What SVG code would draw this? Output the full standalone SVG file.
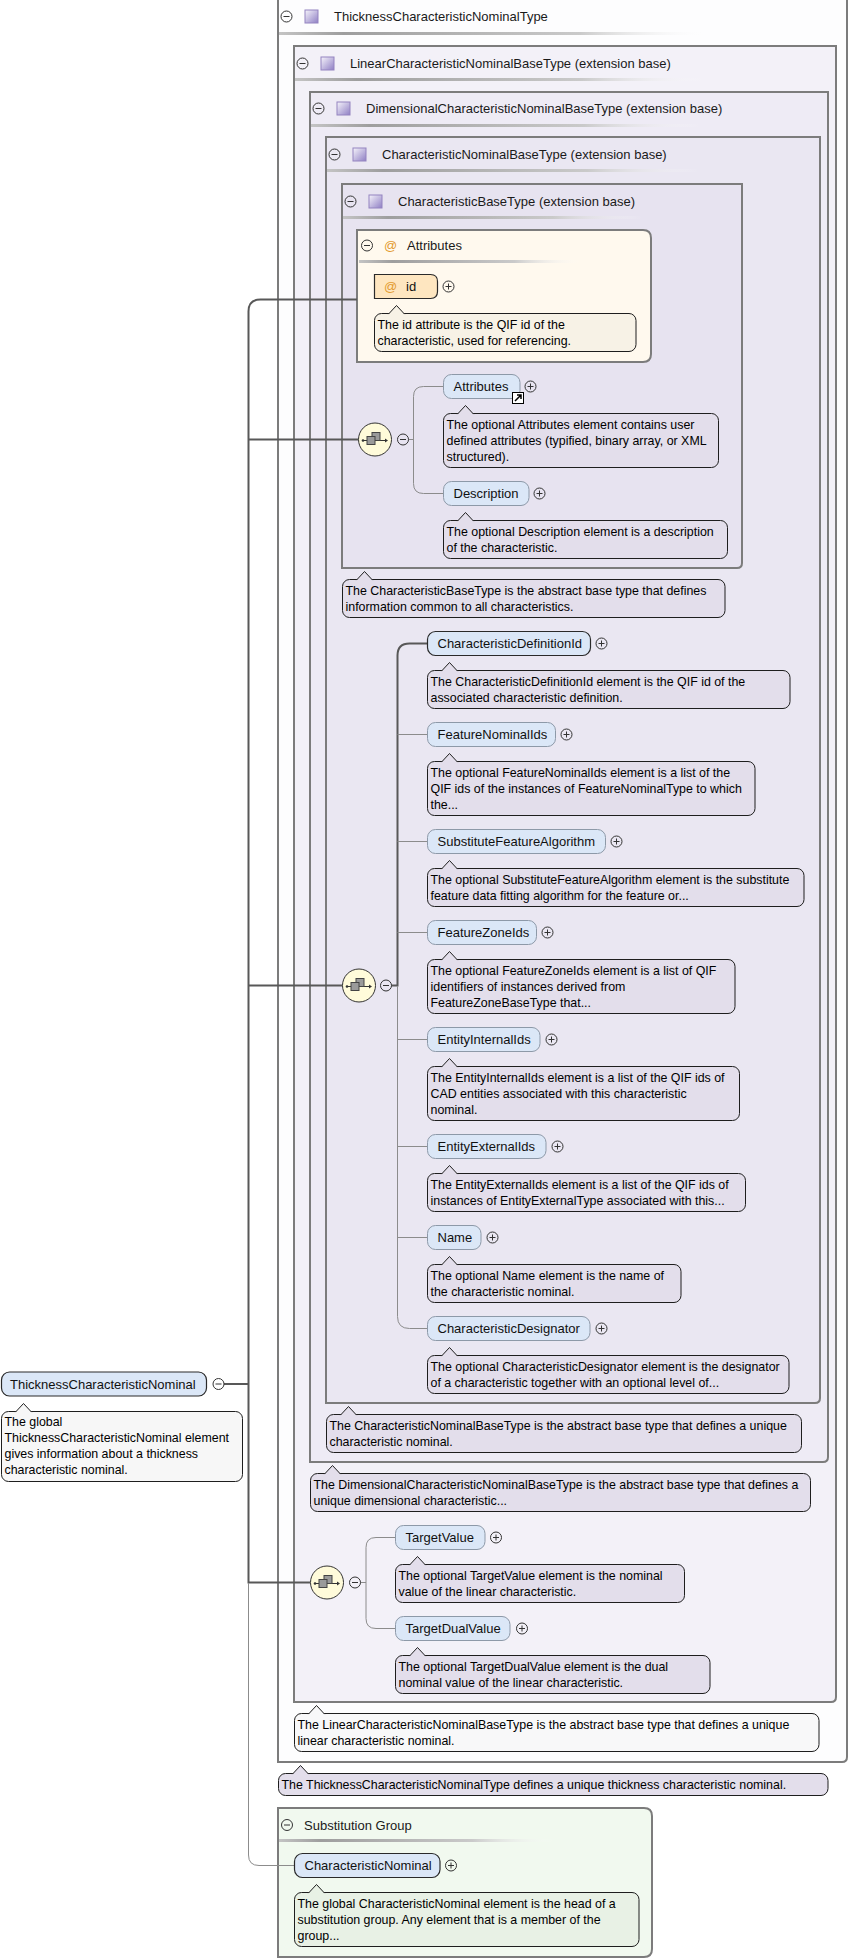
<svg xmlns="http://www.w3.org/2000/svg" xmlns:xlink="http://www.w3.org/1999/xlink" width="848" height="1959" viewBox="0 0 848 1959">
<style>
text{font-family:"Liberation Sans",Arial,sans-serif}
.ttl{font-size:13px;fill:#1a1a1a}
.nm{font-size:13px;fill:#111}
.dt{font-size:12.4px;fill:#000}
.tbox{stroke:#7c7c7c;stroke-width:2}
.el{fill:#DBE7F7}
.req{stroke:#2a2a2a;stroke-width:1.2}
.opt{stroke:#8d99a8;stroke-width:1}
.doc{fill:#E3DEEB;stroke:#1e1e1e;stroke-width:1}
.thick{fill:none;stroke:#585858;stroke-width:2}
.thin{fill:none;stroke:#8c8c8c;stroke-width:1}
.at{font-size:13px;fill:#E39B2E}
</style>
<defs>
<linearGradient id="sep" x1="0" y1="0" x2="1" y2="0">
<stop offset="0" stop-color="#c4c4c4"/>
<stop offset="0.15" stop-color="#9e9e9e"/>
<stop offset="0.7" stop-color="#cacaca"/>
<stop offset="1" stop-color="#ffffff" stop-opacity="0"/>
</linearGradient>
<linearGradient id="ig" x1="0" y1="0" x2="1" y2="1">
<stop offset="0" stop-color="#F6F4FB"/>
<stop offset="1" stop-color="#8F7FC4"/>
</linearGradient>
<g id="plus"><circle r="5.5" fill="none" stroke="#333"/><path d="M-3,0H3M0,-3V3" stroke="#333" stroke-width="1"/></g>
<g id="minus"><circle r="5.5" fill="none" stroke="#333"/><path d="M-3,0H3" stroke="#333" stroke-width="1"/></g>
<g id="ticon"><rect x="0" y="0" width="13" height="13" fill="url(#ig)" stroke="#9484c0" stroke-width="1"/></g>
<g id="seq">
<circle r="16.5" fill="#FFFBDA" stroke="#333" stroke-width="1"/>
<path d="M-12,1H12" stroke="#333" stroke-width="1"/>
<circle cx="-12" cy="1" r="1.3" fill="#333"/>
<path d="M10,-1L13,1L10,3Z" fill="#333"/>
<rect x="-3" y="-7" width="8" height="8" fill="#9a9a9a" stroke="#444" stroke-width="1"/>
<rect x="-8" y="-3" width="8" height="8" fill="#9a9a9a" stroke="#444" stroke-width="1"/>
</g>
</defs>

<rect x="0" y="0" width="848" height="1959" fill="#ffffff"/>

<!-- type boxes -->
<g id="ThicknessCharacteristicNominalType">
<path class="tbox" d="M278,-3 H847 V1757 Q847,1762 842,1762 H278 Z" fill="#FDFDFE"/>
<use xlink:href="#minus" x="286.5" y="16.5"/>
<use xlink:href="#ticon" x="305" y="10"/>
<text class="ttl" x="334" y="21">ThicknessCharacteristicNominalType</text>
<rect x="279" y="32" width="430" height="3" fill="url(#sep)"/>
</g>
<g id="LinearCharacteristicNominalBaseType">
<path class="tbox" d="M294,46 H836 V1697 Q836,1702 831,1702 H294 Z" fill="#F3F1F8"/>
<use xlink:href="#minus" x="302.5" y="63.5"/>
<use xlink:href="#ticon" x="321" y="57"/>
<text class="ttl" x="350" y="68">LinearCharacteristicNominalBaseType (extension base)</text>
<rect x="295" y="78" width="410" height="3" fill="url(#sep)"/>
</g>
<g id="DimensionalCharacteristicNominalBaseType">
<path class="tbox" d="M310,92 H828 V1457 Q828,1462 823,1462 H310 Z" fill="#EEEBF5"/>
<use xlink:href="#minus" x="318.5" y="108.5"/>
<use xlink:href="#ticon" x="337" y="102"/>
<text class="ttl" x="366" y="113">DimensionalCharacteristicNominalBaseType (extension base)</text>
<rect x="311" y="124" width="390" height="3" fill="url(#sep)"/>
</g>
<g id="CharacteristicNominalBaseType">
<path class="tbox" d="M326,137 H820 V1398 Q820,1403 815,1403 H326 Z" fill="#EAE7F2"/>
<use xlink:href="#minus" x="334.5" y="154.5"/>
<use xlink:href="#ticon" x="353" y="148"/>
<text class="ttl" x="382" y="159">CharacteristicNominalBaseType (extension base)</text>
<rect x="327" y="169" width="372" height="3" fill="url(#sep)"/>
</g>
<g id="CharacteristicBaseType">
<path class="tbox" d="M342,184 H742 V563 Q742,568 737,568 H342 Z" fill="#E7E3F0"/>
<use xlink:href="#minus" x="350.5" y="201.5"/>
<use xlink:href="#ticon" x="369" y="195"/>
<text class="ttl" x="398" y="206">CharacteristicBaseType (extension base)</text>
<rect x="343" y="216" width="300" height="3" fill="url(#sep)"/>
</g>
<g id="AttributesGroup">
<path class="tbox" d="M357,230 H643 Q651,230 651,238 V354 Q651,362 643,362 H357 Z" fill="#FFF9EE"/>
<use xlink:href="#minus" x="367" y="245.5"/>
<text class="at" x="384" y="250">@</text>
<text class="ttl" x="407" y="250">Attributes</text>
<rect x="359" y="260" width="222" height="3" fill="url(#sep)"/>
</g>
<g id="SubstitutionGroup">
<path class="tbox" d="M278,1808 H644 Q652,1808 652,1816 V1949 Q652,1957 644,1957 H278 Z" fill="#F1F9EF"/>
<use xlink:href="#minus" x="287" y="1825"/>
<text class="ttl" x="304" y="1829.5">Substitution Group</text>
<rect x="279" y="1839" width="276" height="3" fill="url(#sep)"/>
</g>

<!-- connectors -->
<g id="connectors">
<path class="thick" d="M224,1384 H248.5"/>
<path class="thick" d="M357,299.5 H260.5 Q248.5,299.5 248.5,311.5 V1582.5 H310"/>
<path class="thick" d="M248.5,439.5 H358.5"/>
<path class="thick" d="M248.5,985.5 H342.5"/>
<path class="thin" d="M248.5,1583 V1855 Q248.5,1865.5 259,1865.5 H294.5"/>
<path class="thin" d="M408.5,439.5 H413.5"/>
<path class="thin" d="M443.5,386.5 H423.5 Q413.5,386.5 413.5,396.5 V483.5 Q413.5,493.5 423.5,493.5 H443.5"/>
<path class="thick" d="M391.5,985.5 H397.5 V655.5 Q397.5,643.5 409.5,643.5 H427.5"/>
<path class="thin" d="M397.5,986 V1316.5 Q397.5,1328.5 409.5,1328.5 H427.5"/>
<path class="thin" d="M397.5,734.5 H427.5 M397.5,841.5 H427.5 M397.5,932.5 H427.5 M397.5,1039.5 H427.5 M397.5,1146.5 H427.5 M397.5,1237.5 H427.5"/>
<path class="thin" d="M360.5,1582.5 H366"/>
<path class="thin" d="M395.5,1537.5 H376 Q366,1537.5 366,1547.5 V1618.5 Q366,1628.5 376,1628.5 H395.5"/>
</g>

<!-- sequences -->
<g id="seq1"><use xlink:href="#seq" x="375" y="439.5"/><use xlink:href="#minus" x="403" y="439.5"/></g>
<g id="seq2"><use xlink:href="#seq" x="359" y="985.5"/><use xlink:href="#minus" x="386" y="985.5"/></g>
<g id="seq3"><use xlink:href="#seq" x="327" y="1582.5"/><use xlink:href="#minus" x="355" y="1582.5"/></g>

<!-- root element -->
<g id="ThicknessCharacteristicNominal">
<rect class="el req" x="1.5" y="1372" width="205" height="24" rx="8"/>
<text class="nm" x="10" y="1388.5">ThicknessCharacteristicNominal</text>
<use xlink:href="#minus" x="218.5" y="1384"/>
<rect x="1.5" y="1411.5" width="241" height="70" rx="7" fill="#F7F7F7" stroke="#1e1e1e"/>
<path d="M15.5,1412.1 L23.5,1403.5 L31.5,1412.1" fill="#F7F7F7" stroke="#1e1e1e"/>
<text class="dt" x="4.5" y="1425.5">The global</text>
<text class="dt" x="4.5" y="1441.5">ThicknessCharacteristicNominal element</text>
<text class="dt" x="4.5" y="1457.5">gives information about a thickness</text>
<text class="dt" x="4.5" y="1473.5">characteristic nominal.</text>
</g>

<!-- id attribute -->
<g id="attr-id">
<path d="M374.5,274.5 H430.5 Q437.5,274.5 437.5,281.5 V291.5 Q437.5,298.5 430.5,298.5 H374.5 Z" fill="#FEE6C0" stroke="#2a2a2a" stroke-width="1.2"/>
<text class="at" x="384" y="291">@</text>
<text class="nm" x="406" y="291">id</text>
<use xlink:href="#plus" x="448.5" y="286.5"/>
<rect x="374.5" y="313.5" width="261.5" height="38" rx="7" fill="#F7F2E6" stroke="#1e1e1e"/>
<path d="M388.5,314.1 L396.5,305.5 L404.5,314.1" fill="#F7F2E6" stroke="#1e1e1e"/>
<text class="dt" x="377.5" y="328.5">The id attribute is the QIF id of the</text>
<text class="dt" x="377.5" y="344.5">characteristic, used for referencing.</text>
</g>

<g id="el-Attributes">
<rect class="el opt" x="443.5" y="374.5" width="76.5" height="24" rx="8"/>
<text class="nm" x="453.5" y="391">Attributes</text>
<use xlink:href="#plus" x="530.5" y="386.5"/>
<rect x="512.5" y="392.5" width="11" height="11" fill="#fff" stroke="#000"/>
<path d="M515,401 L521,395 M517,395 H521 V399" stroke="#000" stroke-width="1.5" fill="none"/>
<rect class="doc" x="443.5" y="413.5" width="275" height="54" rx="7"/>
<path class="doc" d="M457.5,414.1 L465.5,405.5 L473.5,414.1"/>
<text class="dt" x="446.5" y="428.5">The optional Attributes element contains user</text>
<text class="dt" x="446.5" y="444.5">defined attributes (typified, binary array, or XML</text>
<text class="dt" x="446.5" y="460.5">structured).</text>
</g>

<g id="el-Description">
<rect class="el opt" x="443.5" y="481.5" width="85.5" height="24" rx="8"/>
<text class="nm" x="453.5" y="498">Description</text>
<use xlink:href="#plus" x="539.5" y="493.5"/>
<rect class="doc" x="443.5" y="520.5" width="284" height="38" rx="7"/>
<path class="doc" d="M457.5,521.1 L465.5,512.5 L473.5,521.1"/>
<text class="dt" x="446.5" y="535.5">The optional Description element is a description</text>
<text class="dt" x="446.5" y="551.5">of the characteristic.</text>
</g>

<g id="doc-CharacteristicBaseType">
<rect class="doc" x="342.5" y="579.5" width="382.5" height="38" rx="7"/>
<path class="doc" d="M356.5,580.1 L364.5,571.5 L372.5,580.1"/>
<text class="dt" x="345.5" y="594.5">The CharacteristicBaseType is the abstract base type that defines</text>
<text class="dt" x="345.5" y="610.5">information common to all characteristics.</text>
</g>

<g id="el-CharacteristicDefinitionId">
<rect class="el req" x="427.5" y="631.5" width="163" height="24" rx="8"/>
<text class="nm" x="437.5" y="648">CharacteristicDefinitionId</text>
<use xlink:href="#plus" x="601.5" y="643.5"/>
<rect class="doc" x="427.5" y="670.5" width="362.5" height="38" rx="7"/>
<path class="doc" d="M441.5,671.1 L449.5,662.5 L457.5,671.1"/>
<text class="dt" x="430.5" y="685.5">The CharacteristicDefinitionId element is the QIF id of the</text>
<text class="dt" x="430.5" y="701.5">associated characteristic definition.</text>
</g>

<g id="el-FeatureNominalIds">
<rect class="el opt" x="427.5" y="722.5" width="128" height="24" rx="8"/>
<text class="nm" x="437.5" y="739">FeatureNominalIds</text>
<use xlink:href="#plus" x="566.5" y="734.5"/>
<rect class="doc" x="427.5" y="761.5" width="327.5" height="54" rx="7"/>
<path class="doc" d="M441.5,762.1 L449.5,753.5 L457.5,762.1"/>
<text class="dt" x="430.5" y="776.5">The optional FeatureNominalIds element is a list of the</text>
<text class="dt" x="430.5" y="792.5">QIF ids of the instances of FeatureNominalType to which</text>
<text class="dt" x="430.5" y="808.5">the...</text>
</g>

<g id="el-SubstituteFeatureAlgorithm">
<rect class="el opt" x="427.5" y="829.5" width="178" height="24" rx="8"/>
<text class="nm" x="437.5" y="846">SubstituteFeatureAlgorithm</text>
<use xlink:href="#plus" x="616.5" y="841.5"/>
<rect class="doc" x="427.5" y="868.5" width="376.5" height="38" rx="7"/>
<path class="doc" d="M441.5,869.1 L449.5,860.5 L457.5,869.1"/>
<text class="dt" x="430.5" y="883.5">The optional SubstituteFeatureAlgorithm element is the substitute</text>
<text class="dt" x="430.5" y="899.5">feature data fitting algorithm for the feature or...</text>
</g>

<g id="el-FeatureZoneIds">
<rect class="el opt" x="427.5" y="920.5" width="109" height="24" rx="8"/>
<text class="nm" x="437.5" y="937">FeatureZoneIds</text>
<use xlink:href="#plus" x="547.5" y="932.5"/>
<rect class="doc" x="427.5" y="959.5" width="307.5" height="54" rx="7"/>
<path class="doc" d="M441.5,960.1 L449.5,951.5 L457.5,960.1"/>
<text class="dt" x="430.5" y="974.5">The optional FeatureZoneIds element is a list of QIF</text>
<text class="dt" x="430.5" y="990.5">identifiers of instances derived from</text>
<text class="dt" x="430.5" y="1006.5">FeatureZoneBaseType that...</text>
</g>

<g id="el-EntityInternalIds">
<rect class="el opt" x="427.5" y="1027.5" width="112.5" height="24" rx="8"/>
<text class="nm" x="437.5" y="1044">EntityInternalIds</text>
<use xlink:href="#plus" x="551.5" y="1039.5"/>
<rect class="doc" x="427.5" y="1066.5" width="312" height="54" rx="7"/>
<path class="doc" d="M441.5,1067.1 L449.5,1058.5 L457.5,1067.1"/>
<text class="dt" x="430.5" y="1081.5">The EntityInternalIds element is a list of the QIF ids of</text>
<text class="dt" x="430.5" y="1097.5">CAD entities associated with this characteristic</text>
<text class="dt" x="430.5" y="1113.5">nominal.</text>
</g>

<g id="el-EntityExternalIds">
<rect class="el opt" x="427.5" y="1134.5" width="118.5" height="24" rx="8"/>
<text class="nm" x="437.5" y="1151">EntityExternalIds</text>
<use xlink:href="#plus" x="557.5" y="1146.5"/>
<rect class="doc" x="427.5" y="1173.5" width="318" height="38" rx="7"/>
<path class="doc" d="M441.5,1174.1 L449.5,1165.5 L457.5,1174.1"/>
<text class="dt" x="430.5" y="1188.5">The EntityExternalIds element is a list of the QIF ids of</text>
<text class="dt" x="430.5" y="1204.5">instances of EntityExternalType associated with this...</text>
</g>

<g id="el-Name">
<rect class="el opt" x="427.5" y="1225.5" width="53.5" height="24" rx="8"/>
<text class="nm" x="437.5" y="1242">Name</text>
<use xlink:href="#plus" x="492.5" y="1237.5"/>
<rect class="doc" x="427.5" y="1264.5" width="253.5" height="38" rx="7"/>
<path class="doc" d="M441.5,1265.1 L449.5,1256.5 L457.5,1265.1"/>
<text class="dt" x="430.5" y="1279.5">The optional Name element is the name of</text>
<text class="dt" x="430.5" y="1295.5">the characteristic nominal.</text>
</g>

<g id="el-CharacteristicDesignator">
<rect class="el opt" x="427.5" y="1316.5" width="162.5" height="24" rx="8"/>
<text class="nm" x="437.5" y="1333">CharacteristicDesignator</text>
<use xlink:href="#plus" x="601.5" y="1328.5"/>
<rect class="doc" x="427.5" y="1355.5" width="361.5" height="38" rx="7"/>
<path class="doc" d="M441.5,1356.1 L449.5,1347.5 L457.5,1356.1"/>
<text class="dt" x="430.5" y="1370.5">The optional CharacteristicDesignator element is the designator</text>
<text class="dt" x="430.5" y="1386.5">of a characteristic together with an optional level of...</text>
</g>

<g id="doc-CharacteristicNominalBaseType">
<rect class="doc" x="326.5" y="1414.5" width="475" height="38" rx="7"/>
<path class="doc" d="M340.5,1415.1 L348.5,1406.5 L356.5,1415.1"/>
<text class="dt" x="329.5" y="1429.5">The CharacteristicNominalBaseType is the abstract base type that defines a unique</text>
<text class="dt" x="329.5" y="1445.5">characteristic nominal.</text>
</g>

<g id="doc-DimensionalCharacteristicNominalBaseType">
<rect class="doc" x="310.5" y="1473.5" width="500" height="38" rx="7"/>
<path class="doc" d="M324.5,1474.1 L332.5,1465.5 L340.5,1474.1"/>
<text class="dt" x="313.5" y="1488.5">The DimensionalCharacteristicNominalBaseType is the abstract base type that defines a</text>
<text class="dt" x="313.5" y="1504.5">unique dimensional characteristic...</text>
</g>

<g id="el-TargetValue">
<rect class="el opt" x="395.5" y="1525.5" width="89.5" height="24" rx="8"/>
<text class="nm" x="405.5" y="1542">TargetValue</text>
<use xlink:href="#plus" x="496" y="1537.5"/>
<rect class="doc" x="395.5" y="1564.5" width="289" height="38" rx="7"/>
<path class="doc" d="M409.5,1565.1 L417.5,1556.5 L425.5,1565.1"/>
<text class="dt" x="398.5" y="1579.5">The optional TargetValue element is the nominal</text>
<text class="dt" x="398.5" y="1595.5">value of the linear characteristic.</text>
</g>

<g id="el-TargetDualValue">
<rect class="el opt" x="395.5" y="1616.5" width="114.5" height="24" rx="8"/>
<text class="nm" x="405.5" y="1633">TargetDualValue</text>
<use xlink:href="#plus" x="522" y="1628.5"/>
<rect class="doc" x="395.5" y="1655.5" width="314.5" height="38" rx="7"/>
<path class="doc" d="M409.5,1656.1 L417.5,1647.5 L425.5,1656.1"/>
<text class="dt" x="398.5" y="1670.5">The optional TargetDualValue element is the dual</text>
<text class="dt" x="398.5" y="1686.5">nominal value of the linear characteristic.</text>
</g>

<g id="doc-LinearCharacteristicNominalBaseType">
<rect x="294.5" y="1713.5" width="524.5" height="38" rx="7" fill="#F8F8F9" stroke="#1e1e1e"/>
<path d="M308.5,1714.1 L316.5,1705.5 L324.5,1714.1" fill="#F8F8F9" stroke="#1e1e1e"/>
<text class="dt" x="297.5" y="1728.5">The LinearCharacteristicNominalBaseType is the abstract base type that defines a unique</text>
<text class="dt" x="297.5" y="1744.5">linear characteristic nominal.</text>
</g>

<g id="doc-ThicknessCharacteristicNominalType">
<rect class="doc" x="278.5" y="1773.5" width="549.5" height="22" rx="7"/>
<path class="doc" d="M292.5,1774.1 L300.5,1765.5 L308.5,1774.1"/>
<text class="dt" x="281.5" y="1788.5">The ThicknessCharacteristicNominalType defines a unique thickness characteristic nominal.</text>
</g>

<g id="el-CharacteristicNominal">
<rect class="el req" x="294.5" y="1853.5" width="145.5" height="24" rx="8"/>
<text class="nm" x="304.5" y="1870">CharacteristicNominal</text>
<use xlink:href="#plus" x="451" y="1865.5"/>
<rect x="294.5" y="1892.5" width="344.5" height="54" rx="7" fill="#E8F1E5" stroke="#1e1e1e"/>
<path d="M308.5,1893.1 L316.5,1884.5 L324.5,1893.1" fill="#E8F1E5" stroke="#1e1e1e"/>
<text class="dt" x="297.5" y="1907.5">The global CharacteristicNominal element is the head of a</text>
<text class="dt" x="297.5" y="1923.5">substitution group. Any element that is a member of the</text>
<text class="dt" x="297.5" y="1939.5">group...</text>
</g>
</svg>
